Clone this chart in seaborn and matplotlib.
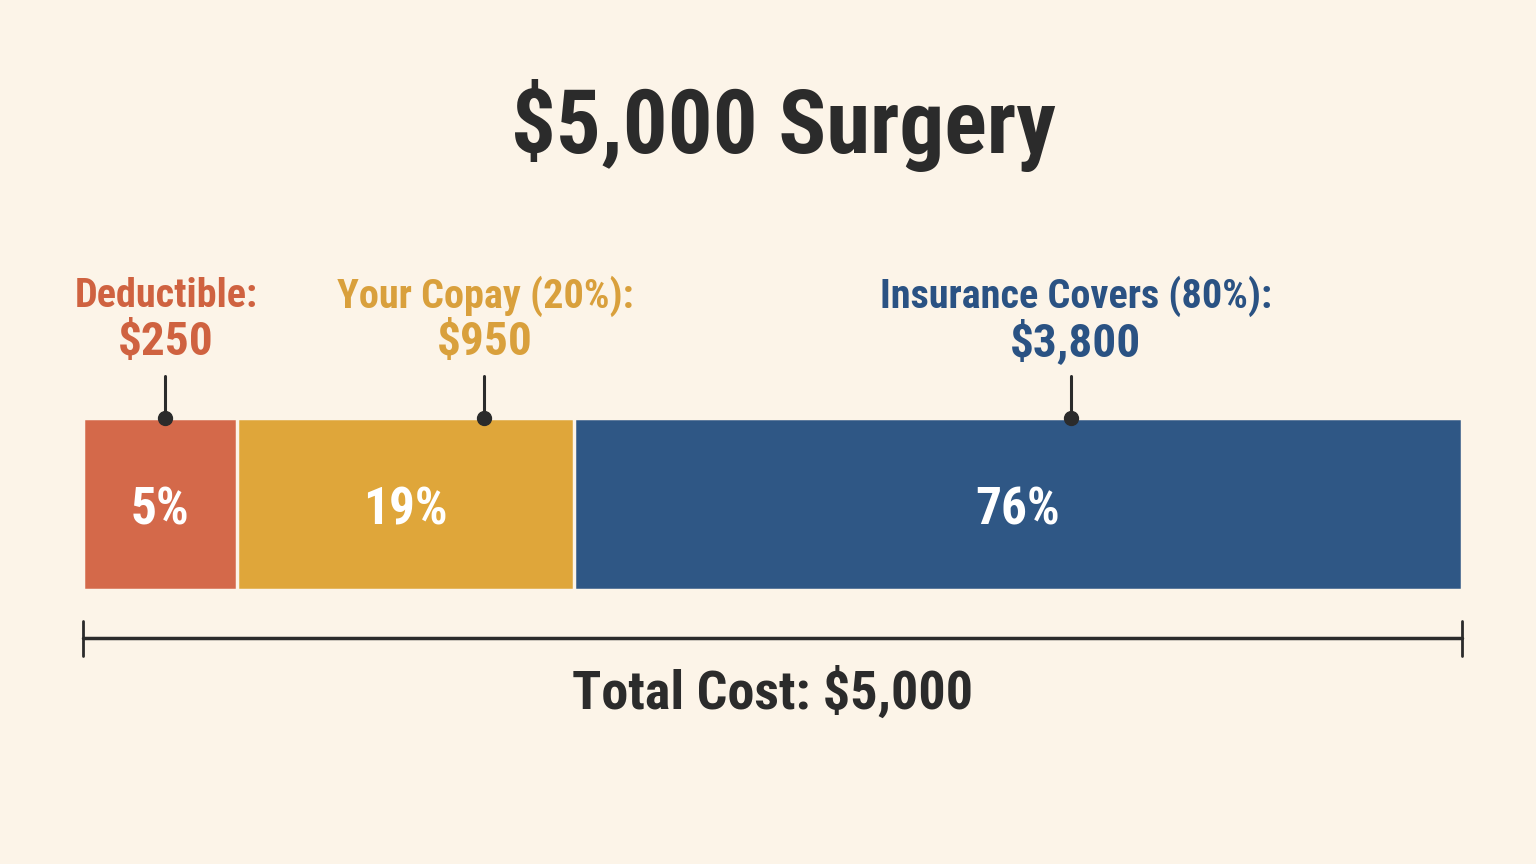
import matplotlib
matplotlib.use("Agg")
import matplotlib.pyplot as plt
import seaborn as sns
import pandas as pd

# данные
parts = ["Deductible", "Your Copay (20%)", "Insurance Covers (80%)"]
amounts = ["$250", "$950", "$3,800"]
pct_labels = ["5%", "19%", "76%"]
# ширина сегментов как на картинке (доля полосы, %)
shares = [11.2, 24.4, 64.4]
title = "$5,000 Surgery"
total_label = "Total Cost: $5,000"

colors = ["#D4694A", "#DFA63A", "#2F5785"]
text_colors = ["#CF6240", "#D9A03C", "#2A5283"]
bg = "#FCF4E8"
dark = "#2B2B2B"

sns.set_theme(style="white")
fonts = ["Roboto Condensed", "Liberation Sans Narrow", "DejaVu Sans Condensed", "Roboto", "DejaVu Sans"]
plt.rcParams["font.family"] = fonts

# накопленные суммы для "стопки"
cum = pd.Series(shares).cumsum().tolist()
df = pd.DataFrame({"part": parts, "cum": cum, "row": ["bar"] * 3})

fig = plt.figure(figsize=(15.36, 8.64), dpi=100, facecolor=bg)
ax = fig.add_axes([0, 0, 1, 1])
ax.set_facecolor(bg)

sns.barplot(data=df.iloc[::-1], x="cum", y="row", hue="part", dodge=False,
            palette=dict(zip(parts, colors)), width=1.0, orient="h", saturation=1,
            edgecolor=bg, linewidth=2.5, legend=False, ax=ax)

# перевод пикселей в координаты осей (для раскладки)
def px_x(p):
    return (p - 83) / 1379 * 100

def px_y(p):
    return (p - 504) / 172

ax.set_xlim(px_x(0), px_x(1536))
ax.set_ylim(px_y(864), px_y(0))
ax.axis("off")

# заголовок
ax.text(px_x(783), px_y(125), title, ha="center", va="center",
        fontsize=64, fontweight="bold", color=dark)

# проценты внутри сегментов
starts = [0] + cum[:-1]
for s, w, lab in zip(starts, shares, pct_labels):
    ax.text(s + w / 2, 0.04, lab, ha="center", va="center",
            fontsize=37, fontweight="bold", color="white")

# подписи с выносками
label_x = [px_x(166), px_x(485), px_x(1076)]
callout_x = [px_x(165), px_x(484), px_x(1071)]
for lx, name, amt, tc in zip(label_x, parts, amounts, text_colors):
    ax.text(lx, px_y(296), name + ":", ha="center", va="center",
            fontsize=29, fontweight="bold", color=tc)
    ax.text(lx, px_y(342), amt, ha="center", va="center",
            fontsize=34, fontweight="bold", color=tc)
for cx in callout_x:
    ax.plot([cx, cx], [px_y(376), -0.5], color=dark, lw=2.2)
    ax.plot(cx, -0.5, "o", color=dark, markersize=10)

# скобка общей суммы
ax.plot([0, cum[-1]], [px_y(638), px_y(638)], color=dark, lw=2.5)
for xe in [0, cum[-1]]:
    ax.plot([xe, xe], [px_y(621), px_y(656)], color=dark, lw=2)
ax.text(cum[-1] / 2, px_y(693), total_label, ha="center", va="center",
        fontsize=39, fontweight="bold", color=dark)

fig.savefig("out.png", dpi=100, facecolor=bg)
